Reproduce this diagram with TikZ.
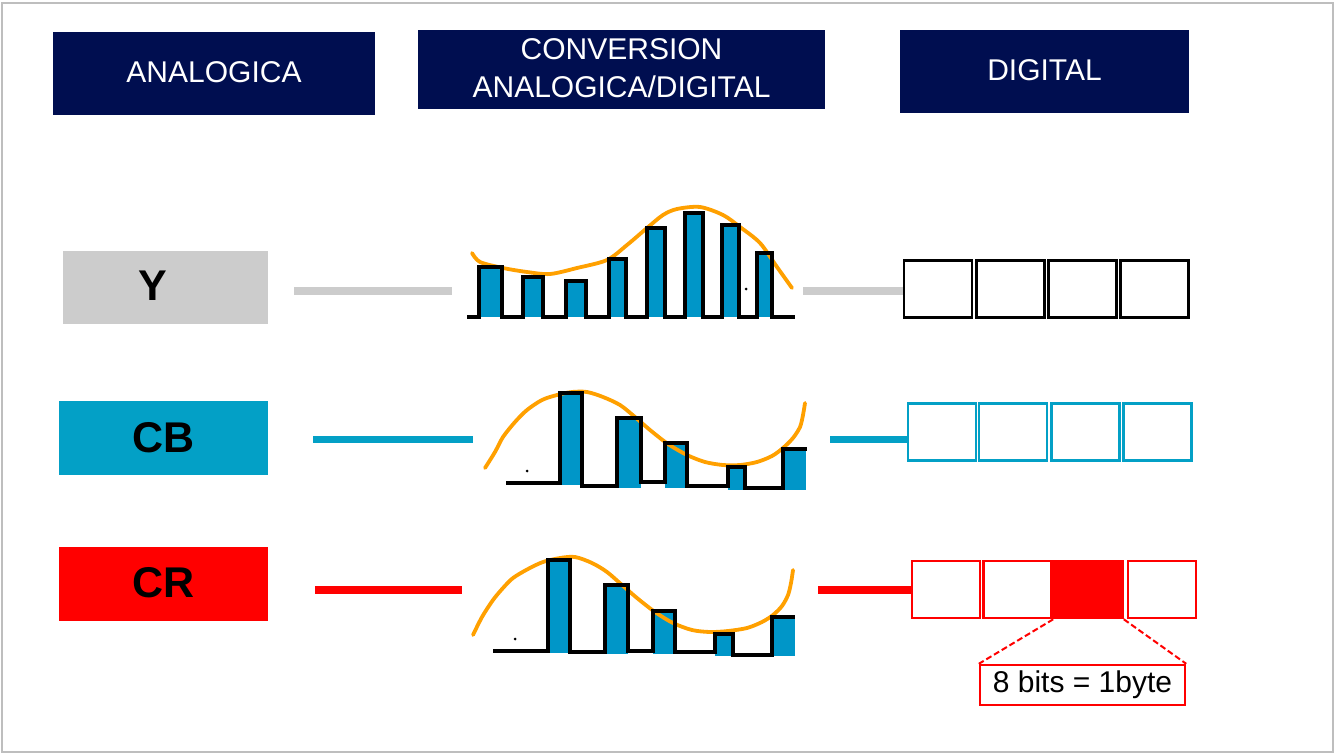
\documentclass[tikz,border=0pt]{standalone}
\usepackage{fontspec}
\setmainfont{Liberation Sans}
\definecolor{navy}{RGB}{0,14,80}
\definecolor{ygray}{RGB}{204,204,204}
\definecolor{cbblue}{RGB}{3,160,198}
\definecolor{barblue}{RGB}{0,150,200}
\definecolor{wave}{RGB}{255,160,0}
\definecolor{framegray}{RGB}{190,190,190}
\begin{document}
\begin{tikzpicture}[x=1pt,y=-1pt,
 hdr/.style={fill=navy,text=white,font=\fontsize{30}{38}\selectfont,align=center,inner sep=0pt},
 lbl/.style={minimum width=209pt,minimum height=74pt,inner sep=0pt,font=\fontsize{43}{48}\selectfont\bfseries},
 cell/.style={draw,line width=2.6pt,minimum width=68pt,minimum height=57pt,inner sep=0pt},
 wire/.style={line width=7.5pt},
 sig/.style={draw=wave,line width=3.8pt,line cap=round,line join=round},
 steps/.style={draw=black,line width=4.5pt,line join=miter},
 bar/.style={fill=barblue},
 dot/.style={fill=black},
 cut/.style={red,line width=2pt,dash pattern=on 6pt off 3pt}
]
\useasboundingbox (0,0) rectangle (1335,754);
\draw[framegray,line width=2pt] (2,3) rectangle (1333,752);

% headers
\node[hdr,minimum width=322pt,minimum height=83pt] (h1) at (214,73.5) {\raisebox{3pt}{ANALOGICA}};
\node[hdr,minimum width=407pt,minimum height=79pt] (h2) at (621.5,69.5) {\raisebox{2pt}{CONVERSION}\\\raisebox{2pt}{ANALOGICA/DIGITAL}};
\node[hdr,minimum width=289pt,minimum height=83pt] (h3) at (1044.5,71.5) {\raisebox{3pt}{DIGITAL}};

% left labels
\node[lbl,fill=ygray,minimum width=205pt,minimum height=73pt] (Y) at (165.5,287.5) {\hspace{-25pt}\raisebox{3pt}{Y}};
\node[lbl,fill=cbblue] (CB) at (163.5,438) {\raisebox{2pt}{CB}};
\node[lbl,fill=red] (CR) at (163.5,583.5) {\raisebox{3pt}{CR}};

% digital cells
\node[cell] (y1) at (938,289) {};
\node[cell] (y2) at (1010.5,289) {};
\node[cell] (y3) at (1082.5,289) {};
\node[cell] (y4) at (1154.5,289) {};
\node[cell,draw=cbblue] (cb1) at (942,432) {};
\node[cell,draw=cbblue] (cb2) at (1013,432) {};
\node[cell,draw=cbblue] (cb3) at (1085.5,432) {};
\node[cell,draw=cbblue] (cb4) at (1157.5,432) {};
\node[cell,draw=red] (cr1) at (946,589.5) {};
\node[cell,draw=red] (cr2) at (1017.5,589.5) {};
\node[cell,draw=red,fill=red] (cr3) at (1088.5,589.5) {};
\node[cell,draw=red] (cr4) at (1162,589.5) {};

\node[draw=red,line width=2.4pt,minimum width=205pt,minimum height=40pt,inner sep=0pt,font=\fontsize{30}{34}\selectfont] (byte) at (1082.5,685) {8 bits = 1byte};
\draw[cut] (cr3.south west) -- (byte.north west);
\draw[cut] (cr3.south east) -- (byte.north east);

% wires
\coordinate (yl1) at (294,291); \coordinate (yl2) at (452,291); \coordinate (yr) at (803,291);
\coordinate (cbl1) at (313,439.5); \coordinate (cbl2) at (473,439.5); \coordinate (cbr) at (830,439.5);
\coordinate (crl1) at (315,590); \coordinate (crl2) at (462,590); \coordinate (crr) at (818,590);
\draw[wire,ygray] (yl1) -- (yl2);
\draw[wire,ygray] (yr) -- (yr -| y1.west);
\draw[wire,cbblue] (cbl1) -- (cbl2);
\draw[wire,cbblue] (cbr) -- (cbr -| cb1.west);
\draw[wire,red] (crl1) -- (crl2);
\draw[wire,red] (crr) -- (crr -| cr1.west);

% Y waveform
\fill[bar] (479,267) rectangle (502,317);
\fill[bar] (523,277) rectangle (543,317);
\fill[bar] (566,281) rectangle (586,317);
\fill[bar] (609,259) rectangle (626,317);
\fill[bar] (647,228) rectangle (665,317);
\fill[bar] (685,213) rectangle (703,317);
\fill[bar] (722,225) rectangle (739,317);
\fill[bar] (757,253) rectangle (772,317);
\draw[sig] plot[smooth] coordinates {(472,253) (480,262) (503,268) (527,272) (550,274) (577,268) (607,260) (627,245) (647,228) (663,215) (677,209) (700,207) (723,215) (740,227) (760,243) (777,267) (792,288)};
\draw[steps,line width=3.2pt] (467,317) -- (479,317) -- (479,267) -- (502,267) -- (502,317) -- (523,317) -- (523,277) -- (543,277) -- (543,317) -- (566,317) -- (566,281) -- (586,281) -- (586,317) -- (609,317) -- (609,259) -- (626,259) -- (626,317) -- (647,317) -- (647,228) -- (665,228) -- (665,317) -- (685,317) -- (685,213) -- (703,213) -- (703,317) -- (722,317) -- (722,225) -- (739,225) -- (739,317) -- (757,317) -- (757,253) -- (772,253) -- (772,317) -- (795,317);
\fill[dot] (746,289) circle (1.5pt);

% CB waveform
\fill[bar] (560,393) rectangle (582,485);
\fill[bar] (617,418) rectangle (641,488);
\fill[bar] (665,443) rectangle (687,488);
\fill[bar] (728,467) rectangle (745,490);
\fill[bar] (783,449) rectangle (806,490);
\draw[sig] plot[smooth] coordinates {(485,468) (495,452) (503,437) (515,422) (527,410) (542,400) (557,395) (572,392) (587,392) (603,397) (620,405) (635,417) (650,430) (668,444) (687,455) (705,462) (723,465) (740,465) (757,462) (772,456) (783,448) (793,438) (800,427) (803,415) (805,403)};
\draw[steps] (506,483) -- (560,483) -- (560,393) -- (582,393) -- (582,486) -- (617,486) -- (617,418) -- (641,418) -- (641,482) -- (665,482) -- (665,443) -- (687,443) -- (687,486) -- (728,486) -- (728,467) -- (745,467) -- (745,488) -- (783,488) -- (783,449) -- (807,449);
\fill[dot] (527,471) circle (1.5pt);

% CR waveform
\fill[bar] (548,560) rectangle (570,653);
\fill[bar] (605,585) rectangle (628,654);
\fill[bar] (653,611) rectangle (675,654);
\fill[bar] (715,634) rectangle (733,656);
\fill[bar] (772,617) rectangle (795,656);
\draw[sig] plot[smooth] coordinates {(473,635) (482,617) (493,600) (503,588) (513,578) (528,569) (543,562) (560,558) (575,557) (592,563) (607,572) (622,585) (637,598) (655,612) (673,623) (692,630) (710,632) (728,631) (747,628) (762,622) (773,615) (782,606) (788,595) (791,583) (793,570)};
\draw[steps] (493,651) -- (548,651) -- (548,560) -- (570,560) -- (570,652) -- (605,652) -- (605,585) -- (628,585) -- (628,651) -- (653,651) -- (653,611) -- (675,611) -- (675,652) -- (715,652) -- (715,634) -- (733,634) -- (733,655) -- (772,655) -- (772,617) -- (795,617);
\fill[dot] (515,639) circle (1.5pt);
\end{tikzpicture}
\end{document}
